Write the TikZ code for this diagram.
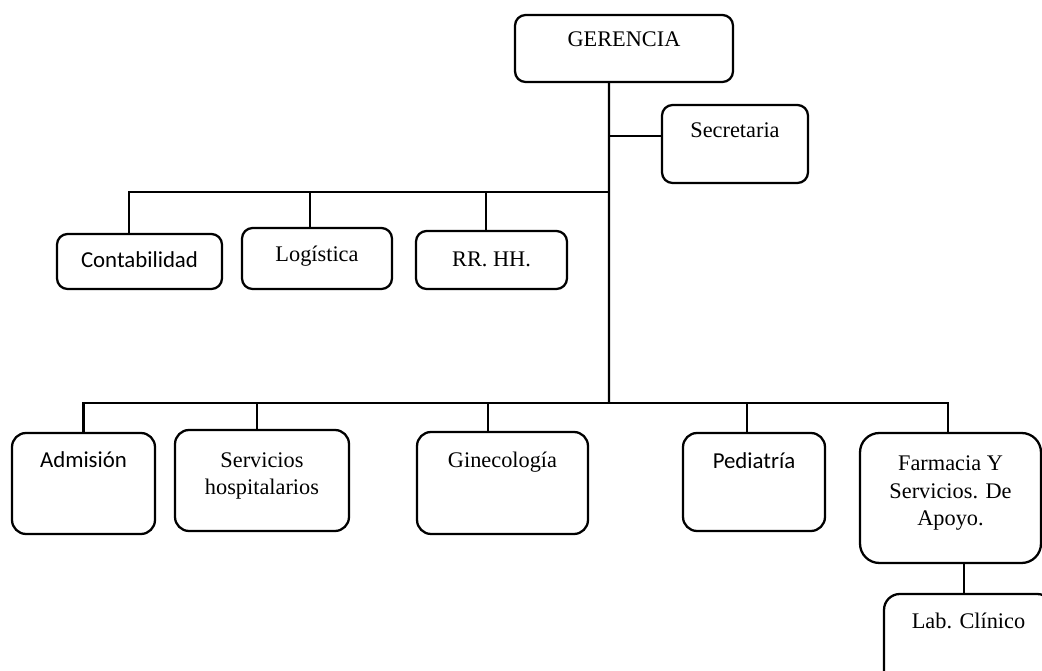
\documentclass[tikz,border=0pt]{standalone}
\usepackage{fontspec}
\setmainfont{Liberation Serif}
\newfontfamily\calibri{Carlito}

\tikzset{
  unit/.style={draw, line width=1.3pt, rounded corners=6pt, inner sep=0pt,
    align=center, font=\fontsize{12.7}{15.9}\selectfont},
  sansunit/.style={unit, font=\calibri\fontsize{13}{16}\selectfont},
  wire/.style={line width=1.3pt},
}

\begin{document}
\begin{tikzpicture}[x=0.02cm, y=-0.02cm]

  \useasboundingbox (0,0) rectangle (1042,671);
  \clip (0,0) rectangle (1042,671);

  % Define nodes
  \node[unit, minimum width=4.36cm, text height=0.64cm, text depth=0.70cm] (ger) at (624,48.5) {GERENCIA};
  \node[unit, minimum width=2.92cm, text height=0.66cm, text depth=0.90cm] (sec) at (735,144) {Secretaria};

  \node[sansunit, minimum width=3.30cm, text height=0.68cm, text depth=0.42cm] (cont) at (139.5,261.5) {Contabilidad};
  \node[unit, minimum width=3.00cm, text height=0.68cm, text depth=0.54cm] (log) at (317,258.5) {Logística};
  \node[unit, minimum width=3.02cm, text height=0.72cm, text depth=0.44cm] (rrhh) at (491.5,260) {RR. HH.};

  \node[sansunit, rounded corners=8pt, minimum width=2.86cm, text height=0.70cm, text depth=1.32cm] (adm) at (83.5,483.5) {Admisión};
  \node[unit, rounded corners=8pt, minimum width=3.48cm, text height=1.30cm, text depth=0.72cm] (serv) at (262,480.5) {Servicios\\hospitalarios};
  \node[unit, rounded corners=8pt, minimum width=3.42cm, text height=0.72cm, text depth=1.32cm] (gine) at (502.5,483) {Ginecología};
  \node[sansunit, rounded corners=8pt, minimum width=2.84cm, text height=0.72cm, text depth=1.24cm] (ped) at (754,482) {Pediatría};
  \node[unit, rounded corners=11pt, minimum width=3.62cm, text height=1.86cm, text depth=0.74cm] (farm) at (950.5,498) {Farmacia Y\\Servicios. De\\Apoyo.};
  \node[unit, rounded corners=9pt, minimum width=3.38cm, text height=0.68cm, text depth=1.44cm] (lab) at (968.5,647) {Lab. Clínico};

  % Buses and drop points
  \coordinate (busA) at (609,192.3);
  \coordinate (busB) at (609,403);
  \coordinate (secjoin) at ([yshift=0.16cm]sec.west);
  \coordinate (conttop) at ([xshift=-0.21cm]cont.north);
  \coordinate (logtop) at ([xshift=-0.14cm]log.north);
  \coordinate (rrhhtop) at ([xshift=-0.11cm]rrhh.north);
  \coordinate (servtop) at ([xshift=-0.10cm]serv.north);
  \coordinate (ginetop) at ([xshift=-0.29cm]gine.north);
  \coordinate (pedtop) at ([xshift=-0.14cm]ped.north);
  \coordinate (farmtop) at ([xshift=-0.05cm]farm.north);
  \coordinate (farmbot) at ([xshift=0.27cm]farm.south);

  % Connect the nodes
  \draw[wire] ([xshift=-0.3cm]ger.south) -- (busB);
  \draw[wire] (secjoin -| busA) -- (secjoin);
  \draw[wire] (busA) -| (conttop);
  \draw[wire] (logtop |- busA) -- (logtop);
  \draw[wire] (rrhhtop |- busA) -- (rrhhtop);

  \draw[wire] (busB) -| (adm.north);
  \draw[wire] (busB) -| (farmtop);
  \draw[wire] (servtop |- busB) -- (servtop);
  \draw[wire] (ginetop |- busB) -- (ginetop);
  \draw[wire] (pedtop |- busB) -- (pedtop);
  \draw[wire] (farmbot) -- (farmbot |- lab.north);

\end{tikzpicture}
\end{document}
